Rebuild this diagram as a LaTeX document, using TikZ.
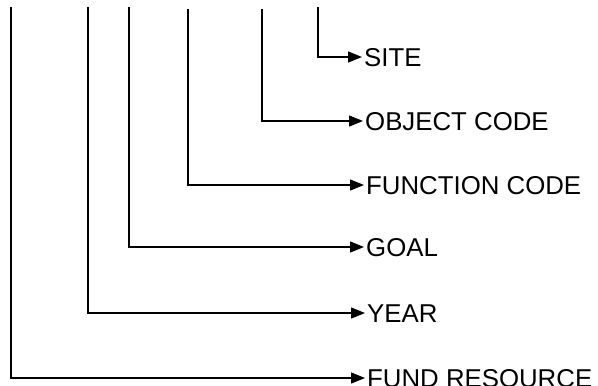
\documentclass[tikz,border=0pt]{standalone}
\usepackage{fontspec}
\setmainfont{Liberation Sans}
\usetikzlibrary{arrows.meta}
\begin{document}
\begin{tikzpicture}[x=1bp,y=-1bp,
  lab/.style={anchor=west,inner sep=0pt,text height=18.5bp,text depth=0pt,
    font=\fontsize{25.8bp}{30bp}\selectfont},
  conn/.style={line width=1.3bp,-{Triangle[length=14bp,width=11bp]},shorten >=2bp}]
\useasboundingbox (0,0) rectangle (598,385);
\coordinate (t1) at (11,7);
\coordinate (t2) at (88,7);
\coordinate (t3) at (129,7);
\coordinate (t4) at (188,9);
\coordinate (t5) at (262,9);
\coordinate (t6) at (318,7);
\node[lab] (site) at (364,57) {SITE};
\node[lab] (obj) at (365,121) {OBJECT CODE};
\node[lab] (func) at (366,185) {FUNCTION CODE};
\node[lab] (goal) at (366,247) {GOAL};
\node[lab] (year) at (367,313) {YEAR};
\node[lab] (fund) at (367,378) {FUND RESOURCE};
\draw[conn] (t6) |- (site.west);
\draw[conn] (t5) |- (obj.west);
\draw[conn] (t4) |- (func.west);
\draw[conn] (t3) |- (goal.west);
\draw[conn] (t2) |- (year.west);
\draw[conn] (t1) |- (fund.west);
\end{tikzpicture}
\end{document}
